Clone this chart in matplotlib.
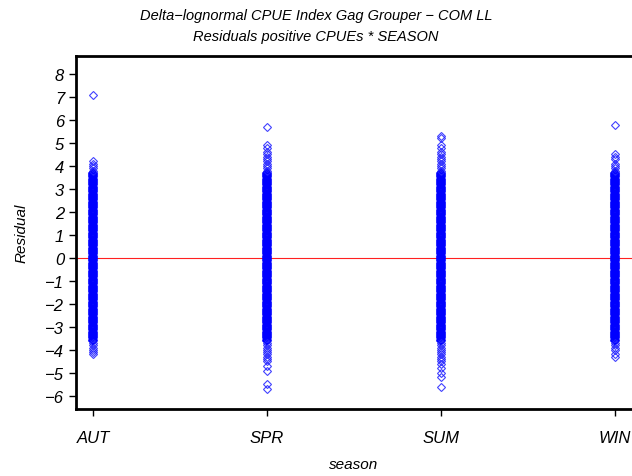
import matplotlib
matplotlib.use("Agg")
import matplotlib.pyplot as plt

plt.rcParams['font.family'] = ['Liberation Sans', 'DejaVu Sans']

seasons = ["AUT", "SPR", "SUM", "WIN"]

# dense central band of residuals seen in every season
core_residuals = [-3.6, -3.5, -3.4, -3.3, -3.2, -3.1, -3.0, -2.9, -2.8, -2.7,
                  -2.6, -2.5, -2.4, -2.3, -2.2, -2.1, -2.0, -1.9, -1.8, -1.7,
                  -1.6, -1.5, -1.4, -1.3, -1.2, -1.1, -1.0, -0.9, -0.8, -0.7,
                  -0.6, -0.5, -0.4, -0.3, -0.2, -0.1, 0.0, 0.1, 0.2, 0.3,
                  0.4, 0.5, 0.6, 0.7, 0.8, 0.9, 1.0, 1.1, 1.2, 1.3,
                  1.4, 1.5, 1.6, 1.7, 1.8, 1.9, 2.0, 2.1, 2.2, 2.3,
                  2.4, 2.5, 2.6, 2.7, 2.8, 2.9, 3.0, 3.1, 3.2, 3.3,
                  3.4, 3.5, 3.6, 3.7]
core_residuals_b = [-3.55, -3.45, -3.35, -3.25, -3.15, -3.05, -2.95, -2.85, -2.75, -2.65,
                    -2.55, -2.45, -2.35, -2.25, -2.15, -2.05, -1.95, -1.85, -1.75, -1.65,
                    -1.55, -1.45, -1.35, -1.25, -1.15, -1.05, -0.95, -0.85, -0.75, -0.65,
                    -0.55, -0.45, -0.35, -0.25, -0.15, -0.05, 0.05, 0.15, 0.25, 0.35,
                    0.45, 0.55, 0.65, 0.75, 0.85, 0.95, 1.05, 1.15, 1.25, 1.35,
                    1.45, 1.55, 1.65, 1.75, 1.85, 1.95, 2.05, 2.15, 2.25, 2.35,
                    2.45, 2.55, 2.65, 2.75, 2.85, 2.95, 3.05, 3.15, 3.25, 3.35,
                    3.45, 3.55, 3.65]

aut_tail = [3.8, 3.9, 4.0, 4.1, 4.2, 7.1,
            -3.7, -3.8, -3.9, -4.0, -4.1, -4.2]
spr_tail = [3.8, 3.9, 4.0, 4.1, 4.2, 4.3, 4.4, 4.5, 4.6, 4.8, 4.9, 5.7,
            -3.7, -3.8, -3.9, -4.0, -4.1, -4.2, -4.3, -4.4, -4.5, -4.7, -4.9, -5.5, -5.7]
sum_tail = [3.8, 3.9, 4.0, 4.1, 4.2, 4.3, 4.4, 4.5, 4.6, 4.8, 4.9, 5.2, 5.3,
            -3.7, -3.8, -3.9, -4.0, -4.1, -4.2, -4.3, -4.4, -4.5, -4.6, -4.8, -5.0, -5.2, -5.6]
win_tail = [3.8, 3.9, 4.0, 4.1, 4.3, 4.4, 4.5, 5.8,
            -3.7, -3.8, -3.9, -4.0, -4.2, -4.3]

tails = [aut_tail, spr_tail, sum_tail, win_tail]

y_ticks = [-6, -5, -4, -3, -2, -1, 0, 1, 2, 3, 4, 5, 6, 7, 8]

fig = plt.figure(figsize=(6.32, 4.77), dpi=100)
ax = fig.add_axes([76 / 632, 1 - 410 / 477, (632 - 76) / 632, (410 - 57) / 477])

for i, (s, tail) in enumerate(zip(seasons, tails)):
    core = core_residuals + core_residuals_b
    ax.plot([i + 1] * len(core), core, linestyle='none', marker='D',
            markersize=3.8, markerfacecolor='none', markeredgecolor='#0000ff',
            markeredgewidth=1.1)
    ax.plot([i + 1] * len(tail), tail, linestyle='none', marker='D',
            markersize=3.8, markerfacecolor='none', markeredgecolor='#2020ff',
            markeredgewidth=0.8, alpha=0.85)

ax.axhline(0, color='#ff2020', linewidth=0.8, zorder=0)

ax.set_xlim(0.902, 4.098)
ax.set_ylim(-6.57, 8.78)
ax.set_xticks([1, 2, 3, 4])
ax.set_xticklabels(seasons, fontsize=12, style='italic')
ax.set_yticks(y_ticks)
ax.set_yticklabels([("\u2212" + str(-v)) if v < 0 else str(v) for v in y_ticks],
                   fontsize=12, style='italic')
ax.tick_params(axis='both', direction='out', length=5, width=1, color='black')
ax.tick_params(axis='x', pad=10)

for side in ['left', 'bottom', 'top']:
    ax.spines[side].set_linewidth(2)
    ax.spines[side].set_color('black')
ax.spines['right'].set_visible(False)

ax.set_ylabel("Residual", fontsize=11, style='italic', labelpad=12)
ax.set_xlabel("season", fontsize=11, style='italic', labelpad=9)

fig.text(0.5, 1 - 16 / 477, "Delta\u2212lognormal CPUE Index Gag Grouper \u2212 COM LL",
         ha='center', va='center', fontsize=10.5, style='italic')
fig.text(0.5, 1 - 37 / 477, "Residuals positive CPUEs * SEASON",
         ha='center', va='center', fontsize=10.5, style='italic')

fig.savefig("out.png", dpi=100)
